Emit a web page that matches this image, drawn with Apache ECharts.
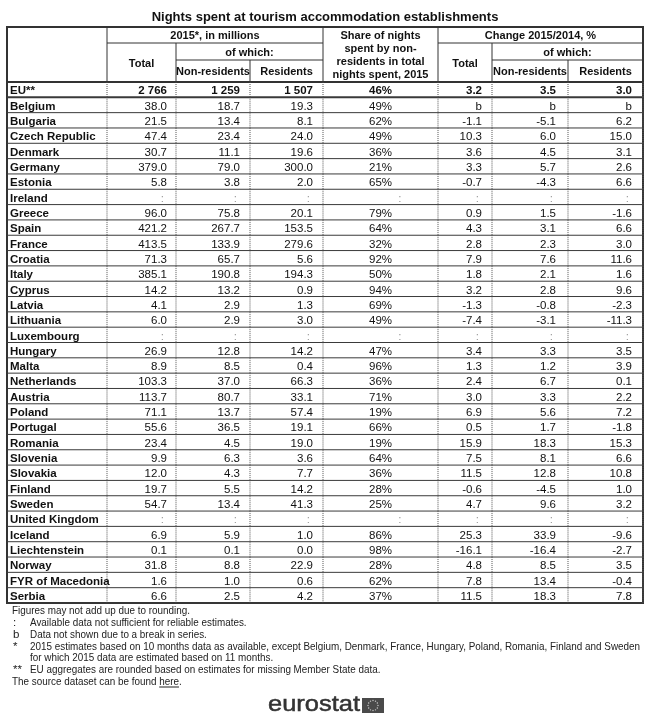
<!DOCTYPE html>
<html><head><meta charset="utf-8">
<script src="https://cdn.jsdelivr.net/npm/echarts@6/dist/echarts.min.js"></script>
<style>html,body{margin:0;padding:0;background:#fff}#c{width:650px;height:719px}</style>
</head><body><div id="c"></div>
<script>
// ---------- DATA ----------
const rowLabels = ['EU**','Belgium','Bulgaria','Czech Republic','Denmark','Germany','Estonia','Ireland','Greece','Spain','France','Croatia','Italy','Cyprus','Latvia','Lithuania','Luxembourg','Hungary','Malta','Netherlands','Austria','Poland','Portugal','Romania','Slovenia','Slovakia','Finland','Sweden','United Kingdom','Iceland','Liechtenstein','Norway','FYR of Macedonia','Serbia'];
const total2015  = [2766,38.0,21.5,47.4,30.7,379.0,5.8,':',96.0,421.2,413.5,71.3,385.1,14.2,4.1,6.0,':',26.9,8.9,103.3,113.7,71.1,55.6,23.4,9.9,12.0,19.7,54.7,':',6.9,0.1,31.8,1.6,6.6];
const nonRes2015 = [1259,18.7,13.4,23.4,11.1,79.0,3.8,':',75.8,267.7,133.9,65.7,190.8,13.2,2.9,2.9,':',12.8,8.5,37.0,80.7,13.7,36.5,4.5,6.3,4.3,5.5,13.4,':',5.9,0.1,8.8,1.0,2.5];
const res2015    = [1507,19.3,8.1,24.0,19.6,300.0,2.0,':',20.1,153.5,279.6,5.6,194.3,0.9,1.3,3.0,':',14.2,0.4,66.3,33.1,57.4,19.1,19.0,3.6,7.7,14.2,41.3,':',1.0,0.0,22.9,0.6,4.2];
const sharePct   = [46,49,62,49,36,21,65,':',79,64,32,92,50,94,69,49,':',47,96,36,71,19,66,19,64,36,28,25,':',86,98,28,62,37];
const chgTotal   = [3.2,'b',-1.1,10.3,3.6,3.3,-0.7,':',0.9,4.3,2.8,7.9,1.8,3.2,-1.3,-7.4,':',3.4,1.3,2.4,3.0,6.9,0.5,15.9,7.5,11.5,-0.6,4.7,':',25.3,-16.1,4.8,7.8,11.5];
const chgNonRes  = [3.5,'b',-5.1,6.0,4.5,5.7,-4.3,':',1.5,3.1,2.3,7.6,2.1,2.8,-0.8,-3.1,':',3.3,1.2,6.7,3.3,5.6,1.7,18.3,8.1,12.8,-4.5,9.6,':',33.9,-16.4,8.5,13.4,18.3];
const chgRes     = [3.0,'b',6.2,15.0,3.1,2.6,6.6,':',-1.6,6.6,3.0,11.6,1.6,9.6,-2.3,-11.3,':',3.5,3.9,0.1,2.2,7.2,-1.8,15.3,6.6,10.8,1.0,3.2,':',-9.6,-2.7,3.5,-0.4,7.8];

const titleText = 'Nights spent at tourism accommodation establishments';
const headerLabels = ['', '2015*, in millions', 'Total', 'of which:', 'Non-residents', 'Residents',
  'Share of nights\nspent by non-\nresidents in total\nnights spent, 2015',
  'Change 2015/2014, %', 'Total', 'of which:', 'Non-residents', 'Residents'];
const footnotes = [
  ['', 'Figures may not add up due to rounding.'],
  [':', 'Available data not sufficient for reliable estimates.'],
  ['b', 'Data not shown due to a break in series.'],
  ['*', '2015 estimates based on 10 months data as available, except Belgium, Denmark, France, Hungary, Poland, Romania, Finland and Sweden'],
  ['', 'for which 2015 data are estimated based on 11 months.'],
  ['**', 'EU aggregates are rounded based on estimates for missing Member State data.'],
  ['', 'The source dataset can be found here.']
];

// ---------- LAYOUT (not data) ----------
const FONT = "'Liberation Sans', Arial, sans-serif";
const colEdges = [0,100,169,243,316,431,485,561,636];
const headRowEdges = [0,16,33,55];
const colPad = [3,9,10,10,0,10,12,11];
// header cell spans: [colStart, colEnd, rowStart, rowEnd] -> headerLabels index
const headSpans = [[0,1,0,3],[1,4,0,1],[1,2,1,3],[2,4,1,2],[2,3,2,3],[3,4,2,3],[4,5,0,3],[5,8,0,1],[5,6,1,3],[6,8,1,2],[6,7,2,3],[7,8,2,3]];

const columns = [rowLabels,total2015,nonRes2015,res2015,sharePct,chgTotal,chgNonRes,chgRes];

function fmt(r, c) {
  const v = columns[c][r];
  if (c === 0) return v;
  if (typeof v === 'string') return v;
  if (c === 4) return v + '%';
  if (r === 0 && c <= 3) return String(Math.round(v)).replace(/\B(?=(\d{3})+(?!\d))/g, ' ');
  return v.toFixed(1);
}

const bodyData = [];
rowLabels.forEach((_, r) => { for (let c = 0; c < 8; c++) bodyData.push([colEdges[c], r, c]); });
const headData = headSpans.map((s, i) => [colEdges[s[0]], headRowEdges[s[2]], i]);

function renderBody(params, api) {
  const c = api.value(2), r = api.value(1);
  const h = api.size([0, 1])[1];
  const a = api.coord([colEdges[c], r]);
  const b = api.coord([colEdges[c + 1], r]);
  const x0 = a[0], x1 = b[0], yc = a[1], y0 = yc - h / 2, y1 = yc + h / 2;
  const text = fmt(r, c);
  const missing = text === ':';
  let align = 'right', tx = x1 - colPad[c];
  if (c === 0) { align = 'left'; tx = x0 + colPad[0]; }
  else if (c === 4) { if (missing) { tx = (x0 + x1) / 2 + 21; } else { align = 'center'; tx = (x0 + x1) / 2; } }
  if (missing && c !== 4) tx -= 3;
  const bold = c === 0 || r === 0;
  return { type: 'group', children: [
    { type: 'line', shape: { x1: x0, y1: y1, x2: x1, y2: y1 }, style: { stroke: '#3a3a3a', lineWidth: r === 0 ? 2 : 1 } },
    { type: 'line', shape: { x1: x1, y1: y0, x2: x1, y2: y1 }, style: { stroke: '#555', lineWidth: 1, lineDash: [1, 1] } },
    { type: 'text', style: { text: text, x: tx, y: yc + 1.5, align: align, verticalAlign: 'middle',
      font: (bold ? 'bold ' : '') + '11.5px ' + FONT, fill: missing ? '#999' : '#111' } }
  ]};
}

function renderHead(params, api) {
  const i = api.value(2);
  const s = headSpans[i];
  const a = api.coord([colEdges[s[0]], headRowEdges[s[2]]]);
  const b = api.coord([colEdges[s[1]], headRowEdges[s[3]]]);
  const x0 = a[0], y0 = a[1], x1 = b[0], y1 = b[1];
  return { type: 'group', children: [
    { type: 'line', shape: { x1: x0, y1: y1, x2: x1, y2: y1 }, style: { stroke: '#333', lineWidth: 1 } },
    { type: 'line', shape: { x1: x1, y1: y0, x2: x1, y2: y1 }, style: { stroke: '#333', lineWidth: 1 } },
    { type: 'text', style: { text: headerLabels[i], x: (x0 + x1) / 2, y: (y0 + y1) / 2 + 1, align: 'center', verticalAlign: 'middle',
      font: 'bold 11px ' + FONT, lineHeight: 13, fill: '#111' } }
  ]};
}

// ---------- footnotes / logo measurement ----------
const ctx = document.createElement('canvas').getContext('2d');
const FN_SIZE = 11.5;
ctx.font = FN_SIZE + 'px ' + FONT;
const fnScale = 610 / ctx.measureText(footnotes[3][1]).width;
const srcPrefixW = ctx.measureText('The source dataset can be found ').width * fnScale;
const hereW = ctx.measureText('here').width * fnScale;
ctx.font = '22px ' + FONT;
const logoScale = 92 / ctx.measureText('eurostat').width;

const fnY = [611, 623, 635, 647, 658, 670, 682];
const graphics = [];
footnotes.forEach((f, i) => {
  if (f[0]) graphics.push({ type: 'text', x: 13, y: fnY[i], style: { text: f[0], font: FN_SIZE + 'px ' + FONT, fill: '#222', verticalAlign: 'middle' } });
  const x = f[0] || i === 4 ? 30 : 12;
  graphics.push({ type: 'text', x: x, y: fnY[i], scaleX: fnScale, style: { text: f[1], font: FN_SIZE + 'px ' + FONT, fill: '#222', verticalAlign: 'middle' } });
});
graphics.push({ type: 'line', shape: { x1: 12 + srcPrefixW, y1: fnY[6] + 5, x2: 12 + srcPrefixW + hereW, y2: fnY[6] + 5 }, style: { stroke: '#222', lineWidth: 1 } });
// eurostat logo
graphics.push({ type: 'text', x: 268, y: 705, scaleX: logoScale, style: { text: 'eurostat', font: '22px ' + FONT, fill: '#333', stroke: '#333', lineWidth: 0.5, verticalAlign: 'middle' } });
graphics.push({ type: 'rect', shape: { x: 362, y: 698, width: 22, height: 15 }, style: { fill: '#4a4a4a' } });
for (let k = 0; k < 12; k++) {
  const ang = k * Math.PI / 6;
  graphics.push({ type: 'circle', shape: { cx: 373 + 5 * Math.cos(ang), cy: 705.5 + 5 * Math.sin(ang), r: 0.7 }, style: { fill: '#ccc' } });
}

const chart = echarts.init(document.getElementById('c'), null, { renderer: 'canvas' });
chart.setOption({
  animation: false,
  backgroundColor: '#fff',
  title: { text: titleText, left: 'center', top: 6, textStyle: { fontSize: 13, fontWeight: 'bold', fontFamily: FONT, color: '#111' } },
  grid: [
    { left: 7, right: 7, top: 82, height: 521, show: true, borderColor: '#333', borderWidth: 2, backgroundColor: 'transparent' },
    { left: 7, right: 7, top: 27, height: 55, show: true, borderColor: '#333', borderWidth: 2, backgroundColor: 'transparent' }
  ],
  xAxis: [
    { type: 'value', gridIndex: 0, min: 0, max: 636, show: false },
    { type: 'value', gridIndex: 1, min: 0, max: 636, show: false }
  ],
  yAxis: [
    { type: 'category', gridIndex: 0, data: rowLabels, inverse: true, show: false },
    { type: 'value', gridIndex: 1, min: 0, max: 55, inverse: true, show: false }
  ],
  series: [
    { type: 'custom', xAxisIndex: 0, yAxisIndex: 0, data: bodyData, renderItem: renderBody, encode: { x: 0, y: 1 }, silent: true },
    { type: 'custom', xAxisIndex: 1, yAxisIndex: 1, data: headData, renderItem: renderHead, encode: { x: 0, y: 1 }, silent: true }
  ],
  graphic: graphics
});
</script>
</body></html>
